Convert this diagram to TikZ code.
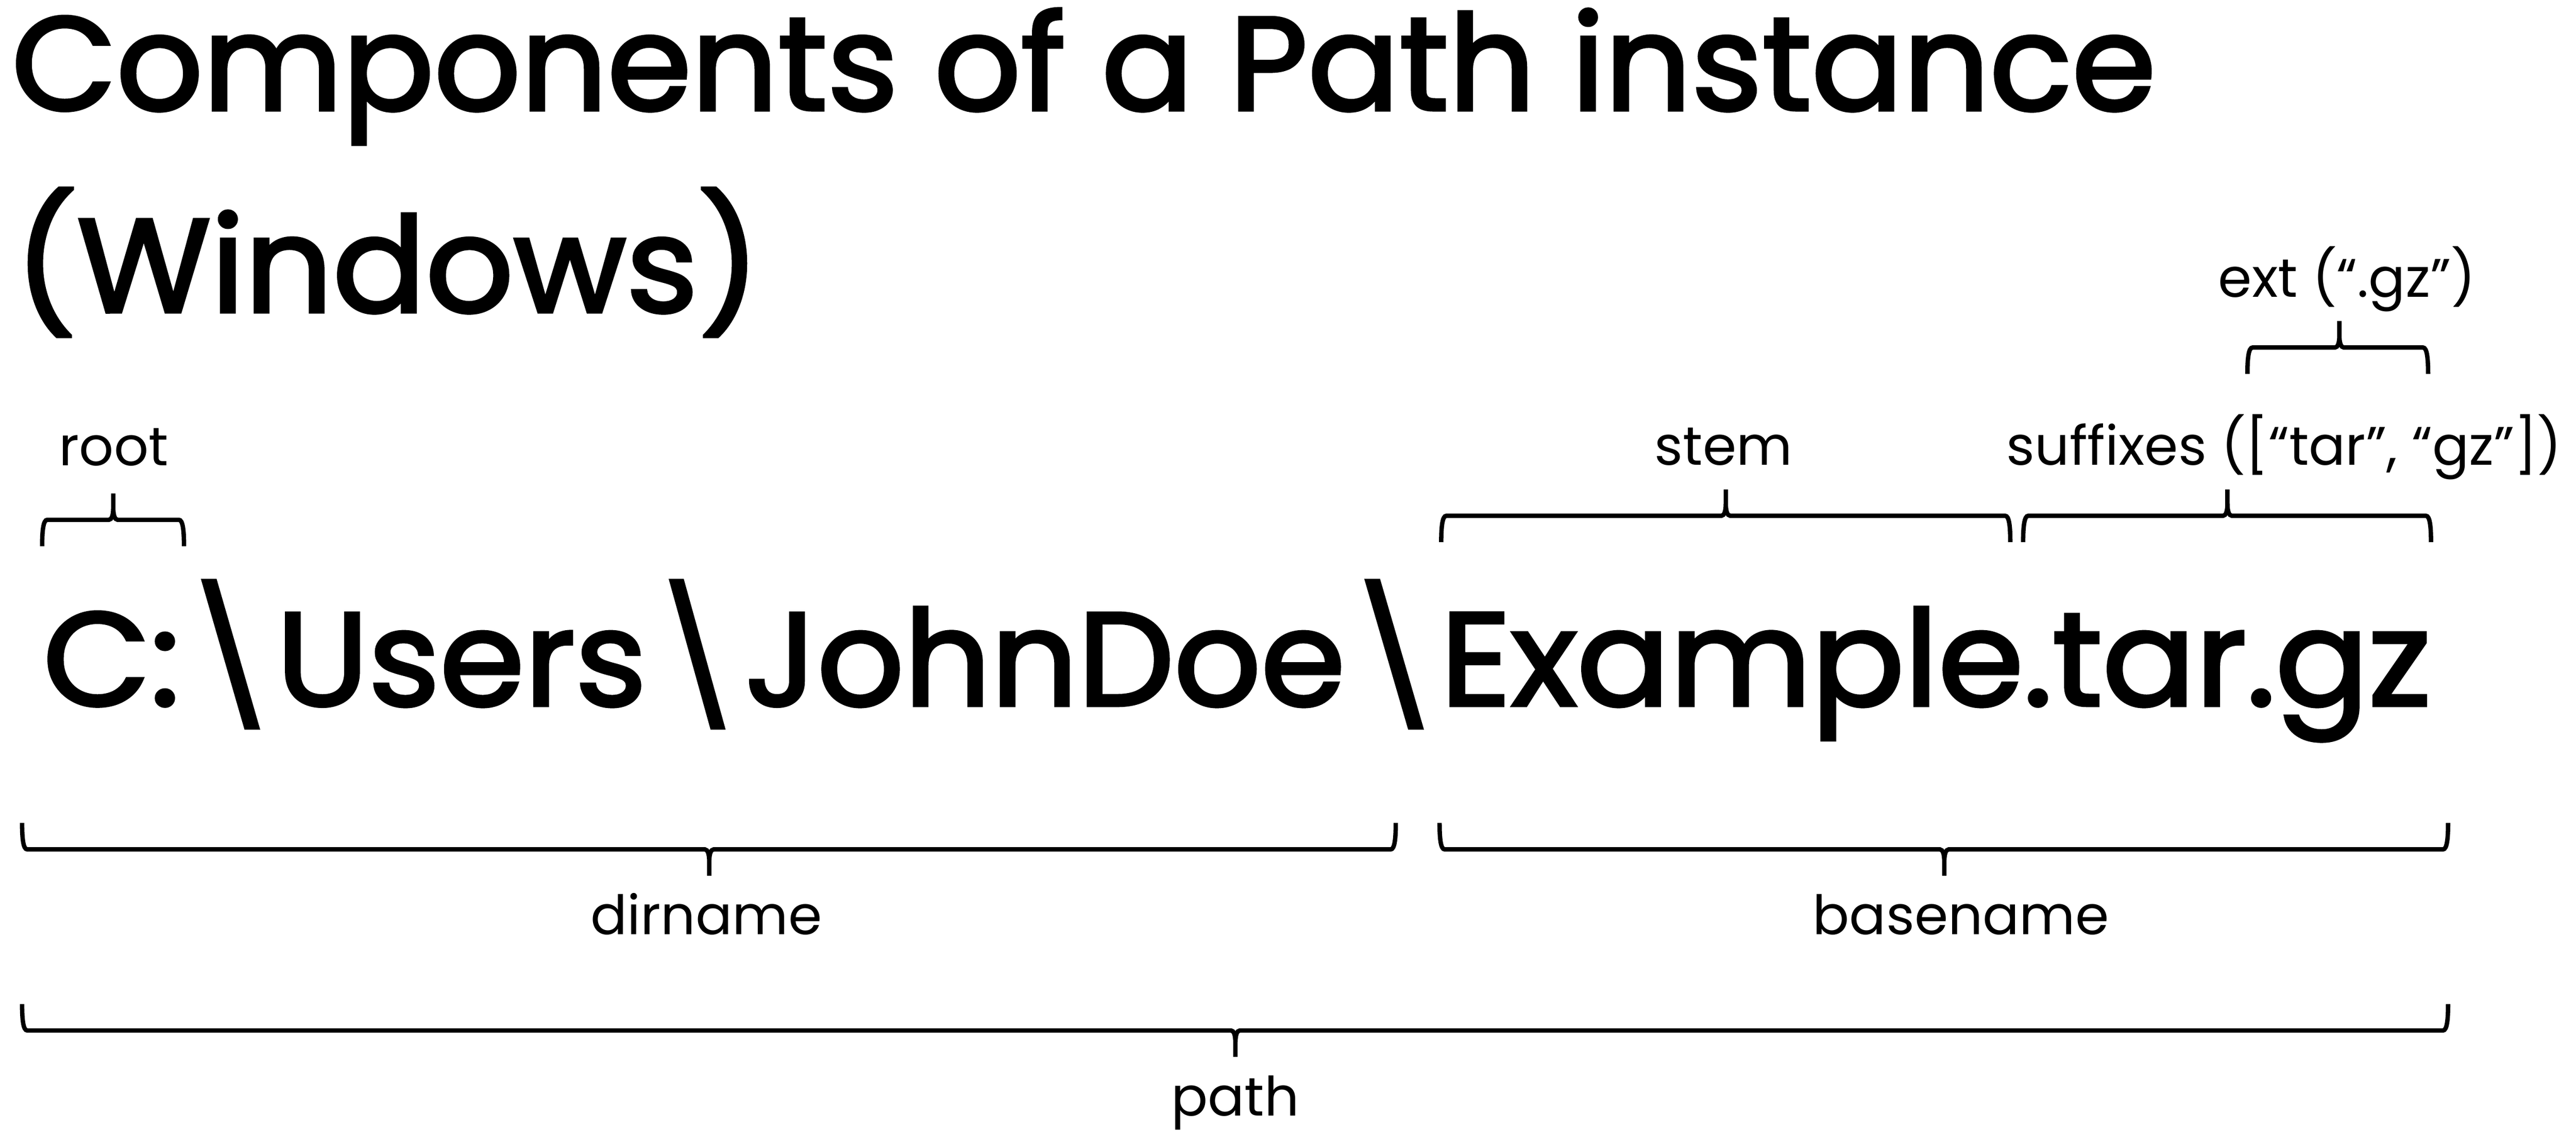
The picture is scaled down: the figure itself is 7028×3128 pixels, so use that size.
\documentclass[tikz,border=0pt]{standalone}
\usepackage{fontspec}
\usepackage{graphicx}
\setmainfont{Poppins}
\newfontfamily\bigfont[FakeBold=2.4]{Poppins}
\tikzset{
  bigtext/.style={font=\bigfont\fontsize{362}{440}\selectfont, inner sep=0pt, outer sep=0pt, anchor=base west},
  labeltext/.style={font=\fontsize{148}{178}\selectfont, inner sep=0pt, outer sep=0pt, anchor=base},
  bracestyle/.style={line width=12pt, line cap=butt, line join=miter}
}
\newdimen\pcW \newdimen\pcL \newdimen\pcR
% measure a piece so that its ink spans [#2,#3]: #1 id, #4 first char code, #5 last char code, #6 text
\newcommand\measurepiece[6]{%
  \setbox0=\hbox{\bigfont\fontsize{362}{440}\selectfont #6%
    \global\pcL=\XeTeXglyphbounds1 \XeTeXcharglyph#4\relax%
    \global\pcR=\XeTeXglyphbounds3 \XeTeXcharglyph#5\relax}%
  \pcW=\wd0
  \pgfmathsetmacro\tmps{(#3-#2)/(\pcW-\pcL-\pcR)}%
  \pgfmathsetmacro\tmpx{#2-\tmps*\pcL}%
  \expandafter\xdef\csname pcs#1\endcsname{\tmps}%
  \expandafter\xdef\csname pcx#1\endcsname{\tmpx}%
}
% place a measured piece: #1 id (also node name), #2 baseline y, #3 text
\newcommand\placepiece[3]{%
  \edef\tmpx{\csname pcx#1\endcsname}%
  \edef\tmps{\csname pcs#1\endcsname}%
  \node[bigtext] (#1) at (\tmpx,#2) {\scalebox{\tmps}[1]{#3}};%
}
% #1 x left, #2 x right, #3 x tip, #4 y of bar, #5 sign: (1) legs down, (-1) legs up
\newcommand\pbrace[5]{%
  \draw[bracestyle]
   (#1,{#4+(#5)*72}) .. controls (#1,{#4+(#5)*30}) and ({#1+3},#4) .. ({#1+14},#4)
   -- ({#3-12},#4) .. controls ({#3-4},#4) and (#3,{#4-(#5)*14}) .. (#3,{#4-(#5)*33})
   -- (#3,{#4-(#5)*72})
   (#3,{#4-(#5)*33}) .. controls (#3,{#4-(#5)*14}) and ({#3+4},#4) .. ({#3+12},#4)
   -- ({#2-14},#4) .. controls ({#2-3},#4) and (#2,{#4+(#5)*30}) .. (#2,{#4+(#5)*72});
}
\begin{document}
\measurepiece{titleA}{48}{5866}{`C}{`e}{Components of a Path instance}%
\measurepiece{titleB}{80}{2034}{`(}{`)}{(Windows)}%
\measurepiece{pC}{134}{473}{`C}{`:}{C:}%
\measurepiece{bsA}{554}{704}{92}{92}{\textbackslash}%
\measurepiece{pUsers}{782}{1745}{`U}{`s}{Users}%
\measurepiece{bsB}{1830}{1974}{92}{92}{\textbackslash}%
\measurepiece{pJohn}{2048}{3654}{`J}{`e}{JohnDoe}%
\measurepiece{bsC}{3728}{3879}{92}{92}{\textbackslash}%
\measurepiece{pExample}{3959}{6617}{`E}{`z}{Example.tar.gz}%
\begin{tikzpicture}[x=1pt,y=-1pt]
\useasboundingbox[fill=white] (0,0) rectangle (7028,3128);
% titles
\placepiece{titleA}{300}{Components of a Path instance}
\placepiece{titleB}{851}{(Windows)}
% path string, piece by piece
\placepiece{pC}{1924.5}{C:}
\placepiece{bsA}{1924.5}{\textbackslash}
\placepiece{pUsers}{1924.5}{Users}
\placepiece{bsB}{1924.5}{\textbackslash}
\placepiece{pJohn}{1924.5}{JohnDoe}
\placepiece{bsC}{1924.5}{\textbackslash}
\placepiece{pExample}{1924.5}{Example.tar.gz}
% labels
\node[labeltext] (ext) at (6403,810) {ext (“.gz”)};
\node[labeltext] (root) at (310,1270) {root};
\node[labeltext] (stem) at (4702,1269) {stem};
\node[labeltext] (suffixes) at (6232,1269) {suffixes ([“tar”, “gz”])};
\node[labeltext] (dirname) at (1927,2549.6) {dirname};
\node[labeltext] (basename) at (5350,2549.6) {basename};
\node[labeltext] (pathlbl) at (3370,3044) {path};
% braces
\pbrace{6131.5}{6624.5}{6382.4}{948}{1}
\pbrace{115}{502}{309}{1418}{1}
\pbrace{3932}{5484.6}{4708.4}{1407}{1}
\pbrace{5519.6}{6632.4}{6077}{1407}{1}
\pbrace{60.3}{3808}{1935}{2317}{(-1)}
\pbrace{3927.5}{6679}{5304.5}{2317}{(-1)}
\pbrace{60.3}{6679}{3370.5}{2811}{(-1)}
\end{tikzpicture}
\end{document}
